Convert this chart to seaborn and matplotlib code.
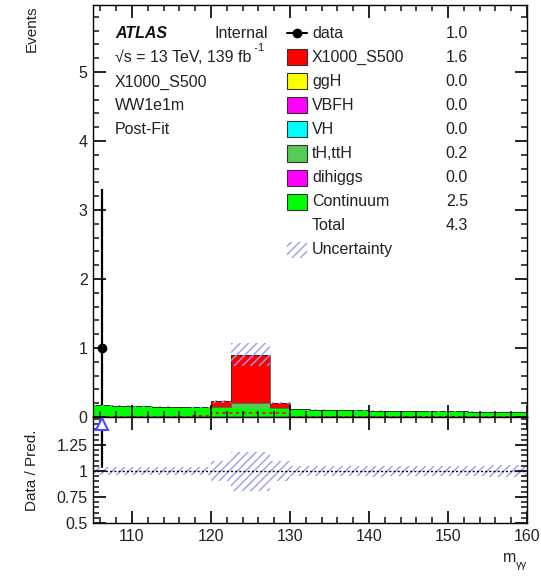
import numpy as np
import pandas as pd
import matplotlib
matplotlib.use("Agg")
import matplotlib.pyplot as plt
import seaborn as sns
from matplotlib.patches import Rectangle
from matplotlib.lines import Line2D
from matplotlib.ticker import MultipleLocator, FixedLocator

# ---------------- data ----------------
bin_edges = [105.0 + 2.5 * i for i in range(23)]
bin_centers = [105.0 + 1.25 + 2.5 * i for i in range(22)]

continuum = [0.167, 0.162, 0.156, 0.150, 0.144, 0.138, 0.132, 0.127, 0.122, 0.117, 0.112,
             0.107, 0.102, 0.098, 0.094, 0.090, 0.086, 0.083, 0.080, 0.077, 0.074, 0.071]
tH_ttH = [0.0, 0.0, 0.0, 0.0, 0.0, 0.003, 0.012, 0.078, 0.078, 0.012, 0.003,
          0.0, 0.0, 0.0, 0.0, 0.0, 0.0, 0.0, 0.0, 0.0, 0.0, 0.0]
signal = [0.0, 0.0, 0.0, 0.0, 0.0, 0.0, 0.085, 0.700, 0.705, 0.075, 0.0,
          0.0, 0.0, 0.0, 0.0, 0.0, 0.0, 0.0, 0.0, 0.0, 0.0, 0.0]
signal_line = [0.004, 0.004, 0.004, 0.004, 0.006, 0.015, 0.065, 0.065, 0.065, 0.065, 0.006,
               0.004, 0.004, 0.004, 0.004, 0.004, 0.004, 0.004, 0.004, 0.004, 0.004, 0.004]
total_unc = [0.006, 0.006, 0.006, 0.006, 0.006, 0.006, 0.022, 0.17, 0.17, 0.02, 0.006,
             0.005, 0.005, 0.005, 0.005, 0.004, 0.004, 0.004, 0.004, 0.004, 0.004, 0.004]

data_x = [106.25]
data_y = [1.0]
data_err_lo = [0.827]
data_err_hi = [2.30]

legend_labels = ["data", "X1000_S500", "ggH", "VBFH", "VH", "tH,ttH", "dihiggs",
                 "Continuum", "Total", "Uncertainty"]
legend_yields = ["1.0", "1.6", "0.0", "0.0", "0.0", "0.2", "0.0", "2.5", "4.3", ""]
colors = {"X1000_S500": "#ff0000", "ggH": "#ffff00", "VBFH": "#ff00ff", "VH": "#00ffff",
          "tH,ttH": "#55cc55", "dihiggs": "#ff00ff", "Continuum": "#00ff00"}
hatch_color = "#9b9bf2"
info_lines = ["X1000_S500", "WW1e1m", "Post-Fit"]

# ---------------- style ----------------
sns.set_theme(style="ticks")
plt.rcParams["font.family"] = ["Liberation Sans", "DejaVu Sans"]
plt.rcParams["hatch.linewidth"] = 1.0
plt.rcParams["axes.axisbelow"] = False

W, H = 541, 580
fig = plt.figure(figsize=(W / 100, H / 100), dpi=100)


def F(x, y):
    return (x / W, 1 - y / H)


xl, xr = 92.5, 527.0
y_top, y_mid, y_bot = 5.0, 417.0, 523.0
ax = fig.add_axes([xl / W, 1 - y_mid / H, (xr - xl) / W, (y_mid - y_top) / H])
ax2 = fig.add_axes([xl / W, 1 - y_bot / H, (xr - xl) / W, (y_bot - y_mid) / H], sharex=ax)

# stacked histogram
procs = ["X1000_S500", "tH,ttH", "Continuum"]
vals = {"X1000_S500": signal, "tH,ttH": tH_ttH, "Continuum": continuum}
df = pd.DataFrame({
    "x": np.concatenate([bin_centers for _ in procs]),
    "w": np.concatenate([vals[p] for p in procs]),
    "proc": np.repeat(procs, len(bin_centers)),
})
sns.histplot(data=df, x="x", weights="w", hue="proc", hue_order=procs, bins=bin_edges,
             multiple="stack", element="step", fill=True, alpha=1.0, linewidth=0,
             palette=colors, legend=False, ax=ax)

edges = np.array(bin_edges)
centers = np.array(bin_centers)
cont = np.array(continuum)
c2 = cont + np.array(tH_ttH)
tot = c2 + np.array(signal)
ax.stairs(c2, edges, color="#333333", lw=0.6, alpha=0.6)
ax.stairs(tot, edges, color="#222222", lw=0.7, alpha=0.7)
ax.stairs(signal_line, edges, color="#ff0000", lw=1.2, ls=(0, (2, 2)))

unc = np.array(total_unc)
ax.bar(centers, 2 * unc, bottom=tot - unc, width=2.5, fill=False, hatch="////",
       edgecolor=hatch_color, linewidth=0)

ax.errorbar(data_x, data_y, yerr=[data_err_lo, data_err_hi], fmt="o", color="black",
            ms=6, elinewidth=1.6, capsize=0, zorder=5)

ax.set_xlim(105, 160)
ax.set_ylim(0, 5.97)
ax.set_xlabel("")
ax.set_ylabel("")
ax.yaxis.set_major_locator(MultipleLocator(1))
ax.yaxis.set_minor_locator(MultipleLocator(0.2))
ax.xaxis.set_major_locator(MultipleLocator(10))
ax.xaxis.set_minor_locator(MultipleLocator(2))

# ratio panel
rel = unc / tot
ax2.bar(centers, 2 * rel, bottom=1 - rel, width=2.5, fill=False, hatch="////",
        edgecolor=hatch_color, linewidth=0)
ax2.axhline(1.0, color="black", lw=1.0, ls=(0, (1.5, 1.5)))
ratio_lo = (data_y[0] - data_err_lo[0]) / tot[0]
ax2.plot([data_x[0], data_x[0]], [ratio_lo, 1.40], color="black", lw=1.6)
ax2.plot(data_x, [1.45], marker="^", ms=8, mfc="white", mec="#4a4aff", mew=1.5, ls="none",
         zorder=5)
ax2.set_ylim(0.5, 1.52)
ax2.yaxis.set_major_locator(FixedLocator([0.5, 0.75, 1.0, 1.25]))
ax2.set_yticklabels(["0.5", "0.75", "1", "1.25"])
ax2.yaxis.set_minor_locator(MultipleLocator(0.05))
ax2.set_xlabel("")
ax2.set_ylabel("")

for a in (ax, ax2):
    a.tick_params(which="both", direction="in", top=True, right=True, color="#111111")
    a.tick_params(which="major", length=9, width=1.3)
    a.tick_params(which="minor", length=4.5, width=1.1)
    a.tick_params(labelsize=11.5, labelcolor="#222222")
    for s in a.spines.values():
        s.set_color("black")
        s.set_linewidth(1.0)
ax.tick_params(axis="x", labelbottom=False)
ax2.tick_params(axis="x", pad=4)

# axis titles
fig.text(*F(32, 5), "Events", rotation=90, ha="center", va="top", fontsize=11, color="#222222")
fig.text(*F(32, 470), "Data / Pred.", rotation=90, ha="center", va="center", fontsize=11,
         color="#222222")
tm = fig.text(*F(503, 562), "m", ha="left", va="baseline", fontsize=11.5, color="#222222")
ax2.annotate("γγ", xy=(1.0, 0.0), xycoords=tm, xytext=(0, 0), textcoords="offset points",
             ha="left", va="center", fontsize=8, color="#222222", annotation_clip=False)

# left info texts
fs = 11.5
fig.text(*F(115, 33), "ATLAS", fontsize=fs, fontweight="bold", fontstyle="italic",
         va="center", ha="left", color="#111111")
fig.text(*F(214, 33), "Internal", fontsize=fs, va="center", ha="left", color="#222222")
ts = fig.text(*F(115, 57), "√s = 13 TeV, 139 fb", fontsize=fs, va="center", ha="left",
              color="#222222")
ax.annotate(" -1", xy=(1.0, 0.75), xycoords=ts, fontsize=8, va="bottom", ha="left",
            color="#222222", annotation_clip=False)
for i, t in enumerate(info_lines):
    fig.text(*F(115, 82 + 24 * i), t, fontsize=fs, va="center", ha="left", color="#222222")

# legend
bx0, bx1 = 287, 307
for i, (lab, yl) in enumerate(zip(legend_labels, legend_yields)):
    yc = 33 + 24.1 * i
    if lab == "data":
        fig.add_artist(Line2D([bx0 / W, bx1 / W], [1 - yc / H] * 2, color="black", lw=1.5,
                              transform=fig.transFigure))
        fig.add_artist(Line2D([(bx0 + bx1) / 2 / W], [1 - yc / H], marker="o", ms=6,
                              color="black", transform=fig.transFigure))
    elif lab in colors:
        fig.add_artist(Rectangle(F(bx0, yc + 8), (bx1 - bx0) / W, 16 / H, facecolor=colors[lab],
                                 edgecolor="#333333", lw=0.8, transform=fig.transFigure))
    elif lab == "Uncertainty":
        fig.add_artist(Rectangle(F(bx0, yc + 8), (bx1 - bx0) / W, 16 / H, fill=False,
                                 hatch="////", edgecolor=hatch_color, lw=0,
                                 transform=fig.transFigure))
    fig.text(*F(312, yc), lab, fontsize=fs, va="center", ha="left", color="#222222")
    if yl:
        fig.text(*F(468, yc), yl, fontsize=fs, va="center", ha="right", color="#222222")

fig.savefig("out.png", dpi=100)
